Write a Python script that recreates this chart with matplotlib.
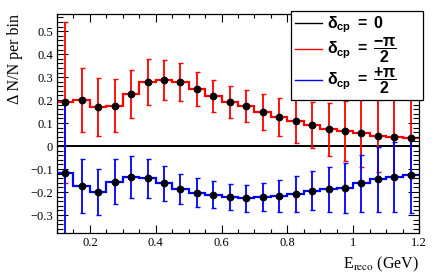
import matplotlib
matplotlib.use("Agg")
import matplotlib.pyplot as plt
import numpy as np
from matplotlib.lines import Line2D
from matplotlib.ticker import MultipleLocator

# ------------------------------------------------------------------
# donnees : 22 bins de 0.05 GeV entre 0.1 et 1.2
bin_edges = np.round(np.arange(0.10, 1.2001, 0.05), 3)

dn_minus = [0.19, 0.20, 0.17, 0.175, 0.225, 0.28, 0.287, 0.278, 0.248, 0.218, 0.19,
            0.174, 0.148, 0.127, 0.11, 0.09, 0.073, 0.065, 0.055, 0.043, 0.038, 0.035]
err_minus = [0.35, 0.14, 0.125, 0.115, 0.105, 0.10, 0.087, 0.083, 0.074, 0.07, 0.07,
             0.07, 0.077, 0.083, 0.095, 0.10, 0.115, 0.13, 0.145, 0.157, 0.17, 0.175]

dn_plus = [-0.118, -0.173, -0.20, -0.155, -0.135, -0.14, -0.162, -0.188, -0.203, -0.212, -0.22,
           -0.227, -0.222, -0.217, -0.208, -0.195, -0.187, -0.183, -0.162, -0.145, -0.135, -0.127]
err_plus = [0.31, 0.117, 0.10, 0.097, 0.09, 0.085, 0.075, 0.065, 0.063, 0.058, 0.057,
            0.058, 0.062, 0.07, 0.078, 0.085, 0.098, 0.11, 0.125, 0.14, 0.152, 0.165]

dn_zero = [0.0] * 22

legend_labels = [r"$\delta_{cp}\;=\;0$",
                 r"$\delta_{cp}\;=\;\dfrac{-\pi}{2}$",
                 r"$\delta_{cp}\;=\;\dfrac{+\pi}{2}$"]

# ------------------------------------------------------------------
plt.rcParams["mathtext.fontset"] = "custom"
plt.rcParams["mathtext.rm"] = "Liberation Sans:bold"
plt.rcParams["mathtext.it"] = "Liberation Sans:bold"
plt.rcParams["mathtext.bf"] = "Liberation Sans:bold"

serif = "Liberation Serif"
red, blue = "#ff0000", "#0000ff"

fig = plt.figure(figsize=(4.42, 2.77), dpi=100)
ax = fig.add_axes([0.129, 0.159, 0.819, 0.790])

centers = 0.5 * (bin_edges[:-1] + bin_edges[1:])

ax.stairs(dn_zero, bin_edges, color="black", lw=1.4, baseline=None)
ax.stairs(dn_minus, bin_edges, color=red, lw=1.6, baseline=None)
ax.stairs(dn_plus, bin_edges, color=blue, lw=1.6, baseline=None)

ax.errorbar(centers, dn_minus, yerr=err_minus, fmt="none", ecolor=red,
            elinewidth=1.3, capsize=1.8, capthick=1.0)
ax.errorbar(centers, dn_plus, yerr=err_plus, fmt="none", ecolor=blue,
            elinewidth=1.3, capsize=1.8, capthick=1.0)
ax.plot(centers, dn_minus, "o", color="black", ms=4.6, zorder=5)
ax.plot(centers, dn_plus, "o", color="black", ms=4.6, zorder=5)

ax.set_xlim(0.1, 1.2)
ax.set_ylim(-0.378, 0.574)

ax.xaxis.set_major_locator(MultipleLocator(0.2))
ax.xaxis.set_minor_locator(MultipleLocator(0.05))
ax.yaxis.set_major_locator(MultipleLocator(0.1))
ax.yaxis.set_minor_locator(MultipleLocator(0.02))
ax.tick_params(which="both", direction="in", top=True, right=True, width=0.8)
ax.tick_params(axis="x", which="major", length=6)
ax.tick_params(axis="x", which="minor", length=3)
ax.tick_params(axis="y", which="major", length=8)
ax.tick_params(axis="y", which="minor", length=4)
ax.tick_params(axis="both", which="major", labelsize=9, pad=3)
for lab in ax.get_xticklabels() + ax.get_yticklabels():
    lab.set_fontfamily(serif)
ax.xaxis.set_major_formatter(plt.FuncFormatter(lambda v, p: f"{v:g}".replace("-", "\u2212")))
ax.yaxis.set_major_formatter(plt.FuncFormatter(lambda v, p: f"{v:.1f}".replace("-", "\u2212") if abs(v) > 1e-9 else "0"))
for sp in ax.spines.values():
    sp.set_linewidth(0.9)

ax.set_ylabel("\u0394 N/N per bin", fontfamily=serif, fontsize=11.5, loc="top", labelpad=5)
ax.set_xlabel(r"E$_{\mathrm{reco}}$ (GeV)", fontfamily=serif, fontsize=11.5, loc="right",
              labelpad=4, math_fontfamily="stix")

handles = [Line2D([], [], color="black", lw=1),
           Line2D([], [], color=red, lw=1),
           Line2D([], [], color=blue, lw=1)]
leg = fig.legend(handles, legend_labels, loc="upper left",
                 bbox_to_anchor=(0.658, 0.65, 0.299, 0.312), mode="expand",
                 fancybox=False, framealpha=1, edgecolor="black", fontsize=11.5,
                 handlelength=1.7, handletextpad=0.3, labelspacing=0.0, borderpad=0.25,
                 borderaxespad=0)
leg.get_frame().set_linewidth(0.9)

plt.savefig("out.png", dpi=100)
